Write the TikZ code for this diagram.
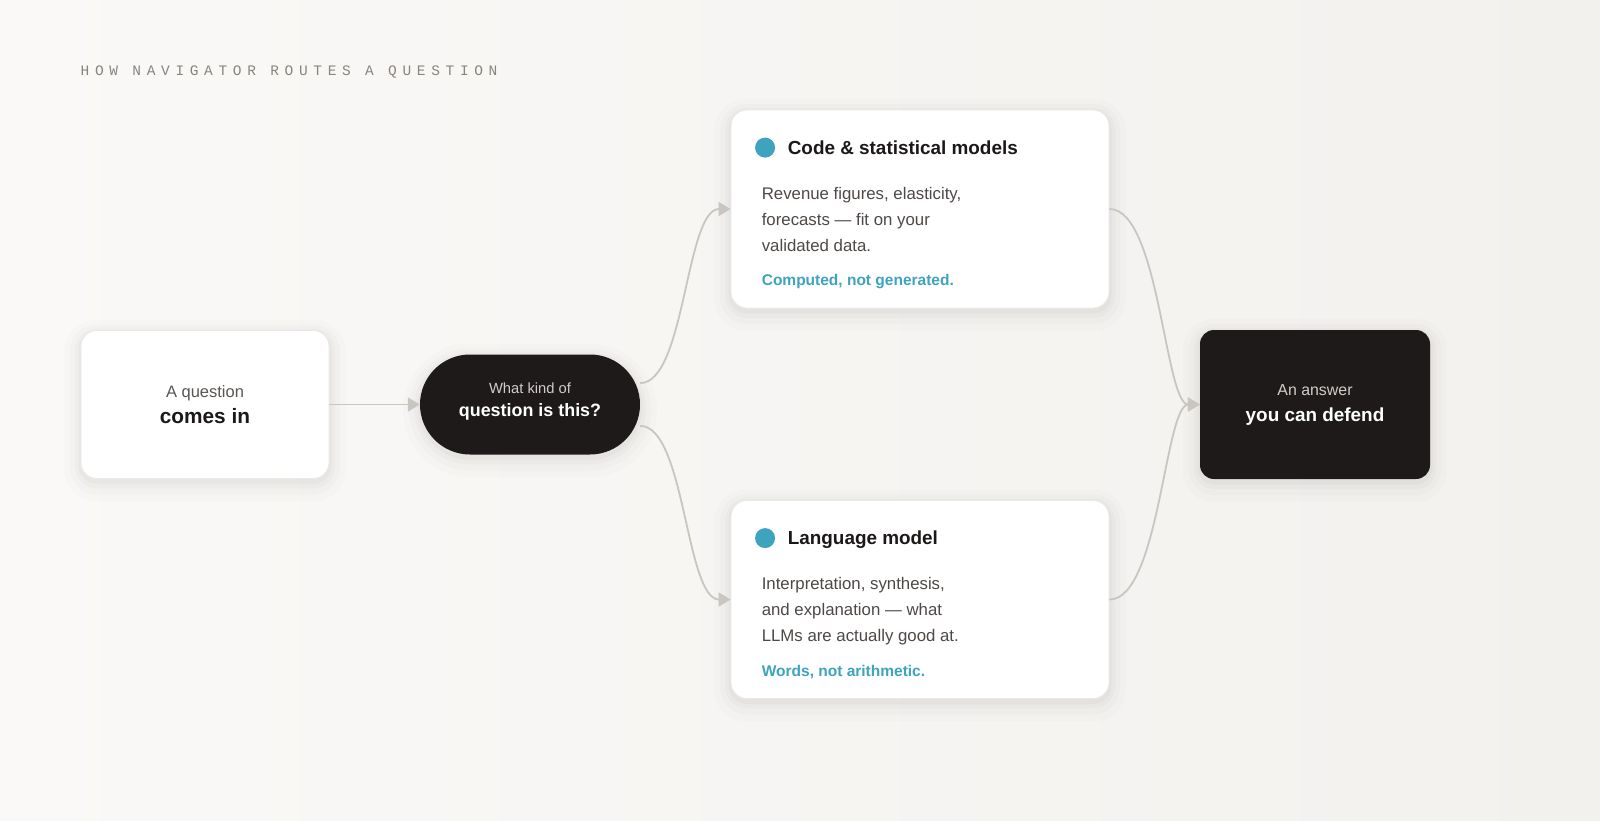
\documentclass[tikz,border=0pt]{standalone}
\usepackage{fontspec}
\setmainfont{Liberation Sans}
\newfontfamily\monofont[LetterSpace=39]{Liberation Mono}
\usetikzlibrary{arrows.meta,positioning}

\definecolor{paperlight}{HTML}{FAF9F7}
\definecolor{paperdark}{HTML}{F2F1EE}
\definecolor{ink}{HTML}{1E1A1A}
\definecolor{inktext}{HTML}{1C1818}
\definecolor{bodytext}{HTML}{4E4946}
\definecolor{softtext}{HTML}{5A5553}
\definecolor{darksoft}{HTML}{D2CDC9}
\definecolor{wiregray}{HTML}{C9C6C1}
\definecolor{accent}{HTML}{3DA3BF}
\definecolor{rim}{HTML}{ECE9E5}
\definecolor{capline}{HTML}{8A847F}

\tikzset{
  soft shadow/.style={
    preaction={draw=black,draw opacity=0.010,line width=34pt,transform canvas={yshift=-6pt}},
    preaction={draw=black,draw opacity=0.014,line width=22pt,transform canvas={yshift=-5pt}},
    preaction={draw=black,draw opacity=0.018,line width=12pt,transform canvas={yshift=-4pt}},
    preaction={draw=black,draw opacity=0.022,line width=5pt,transform canvas={yshift=-3pt}}},
  card/.style={rectangle,rounded corners=16pt,fill=white,draw=rim,line width=0.8pt,inner sep=0pt,soft shadow},
  darkcard/.style={rectangle,rounded corners=14pt,fill=ink,inner sep=0pt,soft shadow},
  kicker/.style={anchor=base west,inner sep=0pt,text=capline,font=\monofont\fontsize{14.5}{16}\selectfont},
  lead/.style={anchor=base,inner sep=0pt,text=softtext,font=\fontsize{#1}{#1}\selectfont},
  headline/.style={anchor=base,inner sep=0pt,text=inktext,font=\fontsize{#1}{#1}\selectfont\bfseries},
  dot/.style={circle,fill=accent,minimum size=20pt,inner sep=0pt},
  cardtitle/.style={anchor=base west,inner sep=0pt,text=inktext,font=\fontsize{18.9}{22}\selectfont\bfseries},
  cardbody/.style={anchor=base west,inner sep=0pt,align=left,text=bodytext,font=\fontsize{16.8}{26}\selectfont},
  cardnote/.style={anchor=base west,inner sep=0pt,text=accent,font=\fontsize{15.5}{18}\selectfont\bfseries},
  wire/.style={draw=wiregray,line width=1.8pt,fill=none}
}

\begin{document}
\begin{tikzpicture}[x=1pt,y=-1pt,>={Triangle[length=12pt,width=14pt]}]
  \shade[left color=paperlight,right color=paperdark] (0,0) rectangle (1600,820);
  \useasboundingbox (0,0) rectangle (1600,820);

  \node[kicker] (heading) at (80.5,75.5) {HOW NAVIGATOR ROUTES A QUESTION};

  % main boxes
  \node[card,minimum width=248pt,minimum height=148pt] (qin) at (205,404.5) {};
  \node[darkcard,rounded corners=50pt,minimum width=220pt,minimum height=100pt] (kind) at (530,404.5) {};
  \node[card,minimum width=378pt,minimum height=198pt] (code) at (920,209) {};
  \node[card,minimum width=378pt,minimum height=198pt] (lang) at (920,599.5) {};
  \node[darkcard,minimum width=230pt,minimum height=149pt] (answer) at (1315,404.5) {};

  % box labels
  \node[lead=16.5] (qin-a) at (205,397) {A question};
  \node[headline=20.8] (qin-b) at (205,423) {comes in};
  \node[lead=14.75,text=darksoft] (kind-a) at (530,393.3) {What kind of};
  \node[headline=17.9,text=white] (kind-b) at (530,416.7) {question is this?};
  \node[lead=15.9,text=darksoft] (answer-a) at (1315,395.7) {An answer};
  \node[headline=18.9,text=white] (answer-b) at (1315,421.7) {you can defend};

  % card contents
  \node[dot] (code-dot) at ([shift={(34.5,38)}]code.north west) {};
  \node[cardtitle] (code-title) at ([shift={(57,44.5)}]code.north west) {Code \& statistical models};
  \node[cardbody] (code-body) at ([shift={(31,141.5)}]code.north west) {Revenue figures, elasticity,\\forecasts — fit on your\\validated data.};
  \node[cardnote] (code-note) at ([shift={(31,176)}]code.north west) {Computed, not generated.};

  \node[dot] (lang-dot) at ([shift={(34.5,38)}]lang.north west) {};
  \node[cardtitle] (lang-title) at ([shift={(57,44.5)}]lang.north west) {Language model};
  \node[cardbody] (lang-body) at ([shift={(31,141.5)}]lang.north west) {Interpretation, synthesis,\\and explanation — what\\LLMs are actually good at.};
  \node[cardnote] (lang-note) at ([shift={(31,176)}]lang.north west) {Words, not arithmetic.};

  % connectors
  \draw[wire,->] (qin) -- (kind);
  \draw[wire,->] (kind.11) .. controls +(45,0) and +(-45,0) .. (code.west);
  \draw[wire,->] (kind.-11) .. controls +(45,0) and +(-45,0) .. (lang.west);
  \draw[wire,->] (code.east) .. controls +(50,0) and +(-35,0) .. (answer.west);
  \draw[wire,->] (lang.east) .. controls +(50,0) and +(-35,0) .. (answer.west);
\end{tikzpicture}
\end{document}
